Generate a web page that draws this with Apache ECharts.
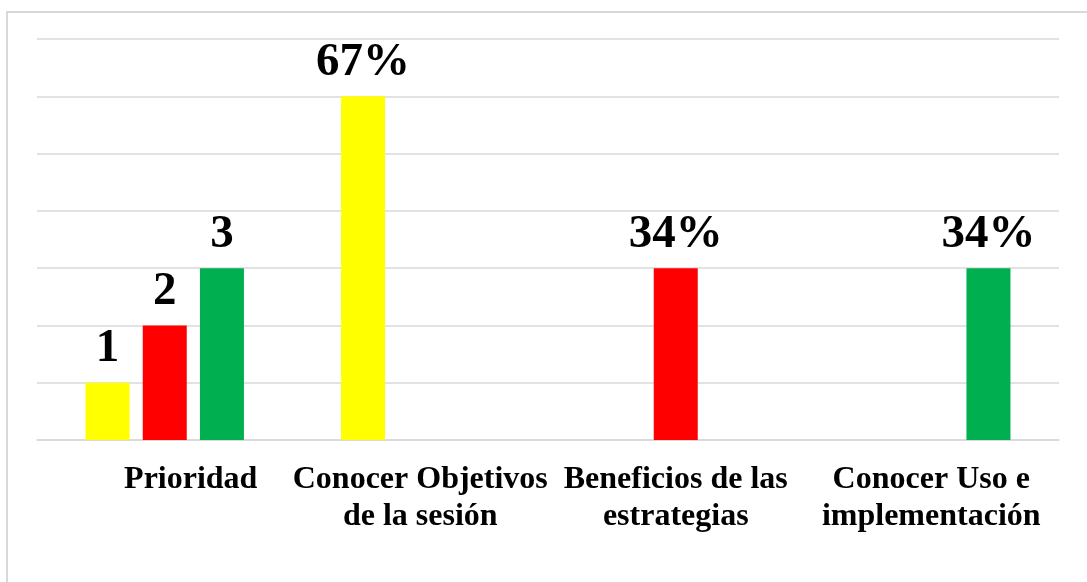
<!DOCTYPE html>
<html>
<head>
<meta charset="utf-8">
<script src="https://cdn.jsdelivr.net/npm/echarts@6/dist/echarts.min.js"></script>
<style>
  html, body { margin: 0; padding: 0; background: #fff; }
  #chart { width: 1087px; height: 582px; }
</style>
</head>
<body>
<div id="chart"></div>
<script>
// categories and values
const categories = [
  "Prioridad",
  "Conocer Objetivos\nde la sesión",
  "Beneficios de las\nestrategias",
  "Conocer Uso e\nimplementación",
];
const yellowValues = [1, 6, null, null];
const redValues = [2, null, 3, null];
const greenValues = [3, null, null, 3];
const yellowLabels = ["1", "67%", "", ""];
const redLabels = ["2", "", "34%", ""];
const greenLabels = ["3", "", "", "34%"];
const yMax = 7;

const chart = echarts.init(document.getElementById("chart"));

const labelFont = {
  show: true,
  position: "top",
  distance: 10,
  color: "#000",
  fontFamily: "Liberation Serif",
  fontWeight: "bold",
  fontSize: 47,
};

function makeSeries(name, values, labels, color) {
  return {
    name: name,
    type: "bar",
    data: values,
    barWidth: 44,
    barGap: "30%",
    itemStyle: { color: color },
    label: Object.assign({}, labelFont, {
      formatter: function (p) {
        return labels[p.dataIndex];
      },
    }),
  };
}

const option = {
  animation: false,
  graphic: [
    {
      type: "rect",
      shape: { x: 7, y: 12, width: 1100, height: 600 },
      style: { fill: "none", stroke: "#d9d9d9", lineWidth: 2 },
      silent: true,
    },
  ],
  grid: {
    left: 37,
    right: 28,
    top: 39,
    bottom: 142,
  },
  xAxis: {
    type: "category",
    data: categories,
    axisLine: { lineStyle: { color: "#d9d9d9", width: 1.5 } },
    axisTick: { show: false },
    axisLabel: {
      interval: 0,
      margin: 21,
      color: "#000",
      fontFamily: "Liberation Serif",
      fontWeight: "bold",
      fontSize: 32,
      lineHeight: 37,
      formatter: function (v) {
        return v === "Prioridad" ? "{p|" + v + "}" : v;
      },
      rich: {
        p: {
          color: "#000",
          fontFamily: "Liberation Serif",
          fontWeight: "bold",
          fontSize: 32,
          lineHeight: 37,
          padding: [0, 0, 0, 52],
        },
      },
    },
  },
  yAxis: {
    type: "value",
    min: 0,
    max: yMax,
    interval: 1,
    axisLabel: { show: false },
    axisLine: { show: false },
    axisTick: { show: false },
    splitLine: { lineStyle: { color: "#d9d9d9", width: 1.5 } },
  },
  series: [
    makeSeries("Amarillo", yellowValues, yellowLabels, "#ffff00"),
    makeSeries("Rojo", redValues, redLabels, "#ff0000"),
    makeSeries("Verde", greenValues, greenLabels, "#00b050"),
  ],
};

chart.setOption(option);
</script>
</body>
</html>
